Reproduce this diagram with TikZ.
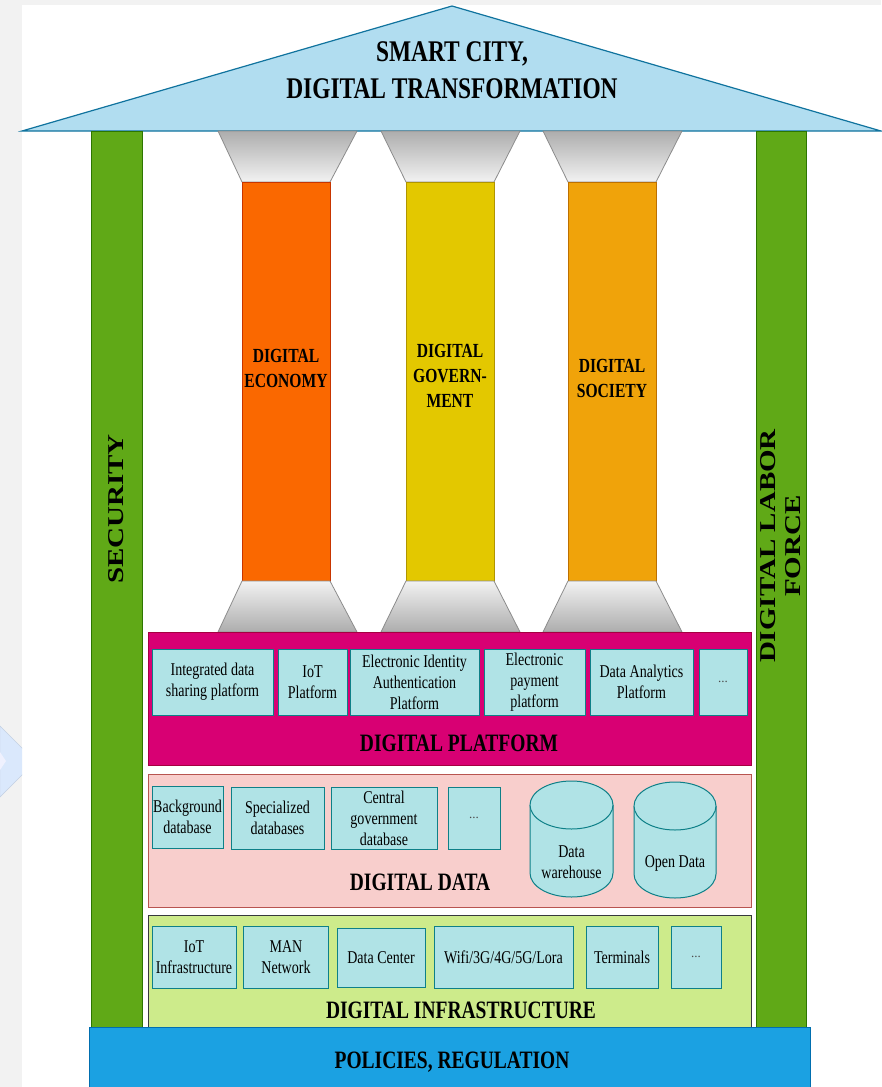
\documentclass[tikz,border=0pt]{standalone}
\usepackage{fontspec}
\usepackage{graphicx}
\setmainfont{Liberation Serif}
\newfontfamily\cf[FakeStretch=0.78]{Liberation Serif}
\usetikzlibrary{shapes.geometric}
\definecolor{bgray}{HTML}{F2F2F2}
\definecolor{rooff}{HTML}{B1DDF0}
\definecolor{roofs}{HTML}{10739E}
\definecolor{grf}{HTML}{60A917}
\definecolor{grs}{HTML}{2D7600}
\definecolor{plf}{HTML}{D80073}
\definecolor{pls}{HTML}{A50040}
\definecolor{bxf}{HTML}{B0E3E6}
\definecolor{bxs}{HTML}{0E8088}
\definecolor{daf}{HTML}{F8CECC}
\definecolor{das}{HTML}{B85450}
\definecolor{inf}{HTML}{CDEB8B}
\definecolor{ins}{HTML}{36393D}
\definecolor{pof}{HTML}{1BA1E2}
\definecolor{pos}{HTML}{006EAF}
\definecolor{c1f}{HTML}{FA6800}
\definecolor{c1s}{HTML}{C73500}
\definecolor{c2f}{HTML}{E3C800}
\definecolor{c2s}{HTML}{B09500}
\definecolor{c3f}{HTML}{F0A30A}
\definecolor{c3s}{HTML}{BD7000}
\definecolor{capd}{HTML}{ADADAD}
\definecolor{capl}{HTML}{F2F2F2}
\definecolor{chevf}{HTML}{DAE8FC}
\definecolor{chevs}{HTML}{C3D0E3}
\begin{document}
\begin{tikzpicture}[x=1pt,y=-1pt,
  box/.style={draw=bxs,fill=bxf,line width=1pt,rectangle,inner sep=0pt,align=center,
    font=\cf\fontsize{18}{21}\selectfont},
  dots/.style={box,font=\fontsize{13}{15}\selectfont\color{black!70}},
  layer/.style={rectangle,inner sep=0pt,line width=0.8pt},
  big/.style={font=\cf\bfseries\fontsize{25}{30}\selectfont,anchor=base},
  coltext/.style={align=center,font=\cf\bfseries\fontsize{20}{25}\selectfont},
  capital/.style={draw=black!45,line width=0.8pt,top color=capd,bottom color=capl},
  base/.style={draw=black!45,line width=0.8pt,top color=capl,bottom color=capd},
  cyl/.style={draw=bxs,fill=bxf,line width=1pt}]
\useasboundingbox (0,0) rectangle (881,1087);
% background
\fill[bgray] (0,0) rectangle (881,1087);
\fill[white] (22,5) rectangle (881,1087);
\begin{scope}
\clip (0,0) rectangle (22,1087);
\draw[fill=chevf,draw=chevs] (0,726) -- (23,749) -- (23,774) -- (0,797) -- cycle;
\fill[chevf!80!blue!20] (0,752) -- (6,761) -- (0,770) -- cycle;
\end{scope}
% roof
\draw[fill=rooff,draw=roofs,line width=1.2pt] (22,131) -- (452,6) -- (881,131) -- cycle;
\node[font=\cf\bfseries\fontsize{30}{37}\selectfont,anchor=base] (roof1) at (452,61) {SMART CITY,};
\node[font=\cf\bfseries\fontsize{30}{37}\selectfont,anchor=base] (roof2) at (452,98) {DIGITAL TRANSFORMATION};
% green bars
\node[layer,draw=grs,fill=grf,minimum width=51,minimum height=896] (sec) at (116.5,579) {};
\node[layer,draw=grs,fill=grf,minimum width=50,minimum height=896] (labor) at (781,579) {};
\node[rotate=90,font=\bfseries\fontsize{29}{34}\selectfont] (sectext) at (116,509) {\scalebox{1}[0.78]{SECURITY}};
\node[rotate=90,font=\bfseries\fontsize{29}{34}\selectfont,inner sep=0pt] (labortext) at (782.5,546)
  {\scalebox{1}[0.78]{\begin{tabular}{@{}c@{}}DIGITAL LABOR\\[-2pt]FORCE\end{tabular}}};
% columns
\foreach \l/\s/\fc/\sc in {218/242/c1f/c1s,381/406/c2f/c2s,543/568/c3f/c3s}{
  \draw[capital] (\l,131) -- (\l+139,131) -- (\s+88,182) -- (\s,182) -- cycle;
  \draw[fill=\fc,draw=\sc,line width=0.8pt] (\s,182) rectangle (\s+88,581);
  \draw[base] (\s,581) -- (\s+88,581) -- (\l+139,632) -- (\l,632) -- cycle;
}
\node[coltext] (eco) at (286,368) {DIGITAL\\ECONOMY};
\node[coltext] (gov) at (450,376) {DIGITAL\\GOVERN-\\MENT};
\node[coltext] (soc) at (612,378) {DIGITAL\\SOCIETY};
% digital platform
\node[layer,draw=pls,fill=plf,minimum width=603,minimum height=133] (plat) at (449.5,698.5) {};
\node[box,minimum width=121,minimum height=66] (p1) at (212.5,682) {Integrated data\\sharing platform};
\node[box,minimum width=69,minimum height=66] (p2) at (312.5,682) {IoT\\Platform};
\node[box,minimum width=129,minimum height=66] (p3) at (414.5,682) {Electronic Identity\\Authentication\\Platform};
\node[box,minimum width=101,minimum height=66] (p4) at (534.5,682) {Electronic\\payment\\platform};
\node[box,minimum width=103,minimum height=66] (p5) at (641.5,682) {Data Analytics\\Platform};
\node[dots,minimum width=48,minimum height=66] (p6) at (723,682) {...};
\node[big] (plattext) at (459,751) {DIGITAL PLATFORM};
% digital data
\node[layer,draw=das,fill=daf,minimum width=603,minimum height=133] (data) at (449.5,840.5) {};
\node[box,minimum width=71,minimum height=62] (d1) at (187.5,817) {Background\\database};
\node[box,minimum width=93,minimum height=62] (d2) at (277.5,818) {Specialized\\databases};
\node[box,minimum width=106,minimum height=62] (d3) at (384,818) {Central\\government\\database};
\node[dots,minimum width=52,minimum height=62] (d4) at (474,818) {...};
\draw[cyl] (530,805) -- (530,873) arc[start angle=180,end angle=360,x radius=41.5pt,y radius=24pt] -- (613,805);
\draw[cyl] (571.5,805) ellipse[x radius=41.5pt,y radius=24pt];
\node[align=center,font=\cf\fontsize{18}{21}\selectfont] (dw) at (571.5,862) {Data\\warehouse};
\draw[cyl] (634,806) -- (634,874) arc[start angle=180,end angle=360,x radius=41pt,y radius=24pt] -- (716,806);
\draw[cyl] (675,806) ellipse[x radius=41pt,y radius=24pt];
\node[align=center,font=\cf\fontsize{18}{21}\selectfont] (od) at (675,863) {Open Data};
\node[big] (datatext) at (420,890) {DIGITAL DATA};
% digital infrastructure
\node[layer,draw=ins,fill=inf,minimum width=603,minimum height=112] (infra) at (449.5,971) {};
\node[box,minimum width=84,minimum height=62] (i1) at (194,957) {IoT\\Infrastructure};
\node[box,minimum width=85,minimum height=62] (i2) at (286,957) {MAN\\Network};
\node[box,minimum width=88,minimum height=59] (i3) at (381,957.5) {Data Center};
\node[box,minimum width=139,minimum height=62] (i4) at (503.5,957) {Wifi/3G/4G/5G/Lora};
\node[box,minimum width=72,minimum height=62] (i5) at (622,957) {Terminals};
\node[dots,minimum width=50,minimum height=62] (i6) at (696,957) {...};
\node[big] (infratext) at (461,1018) {DIGITAL INFRASTRUCTURE};
% policies
\node[layer,draw=pos,fill=pof,minimum width=721,minimum height=62] (pol) at (449.5,1058) {};
\node[big] (poltext) at (452,1068) {POLICIES, REGULATION};
\end{tikzpicture}
\end{document}
